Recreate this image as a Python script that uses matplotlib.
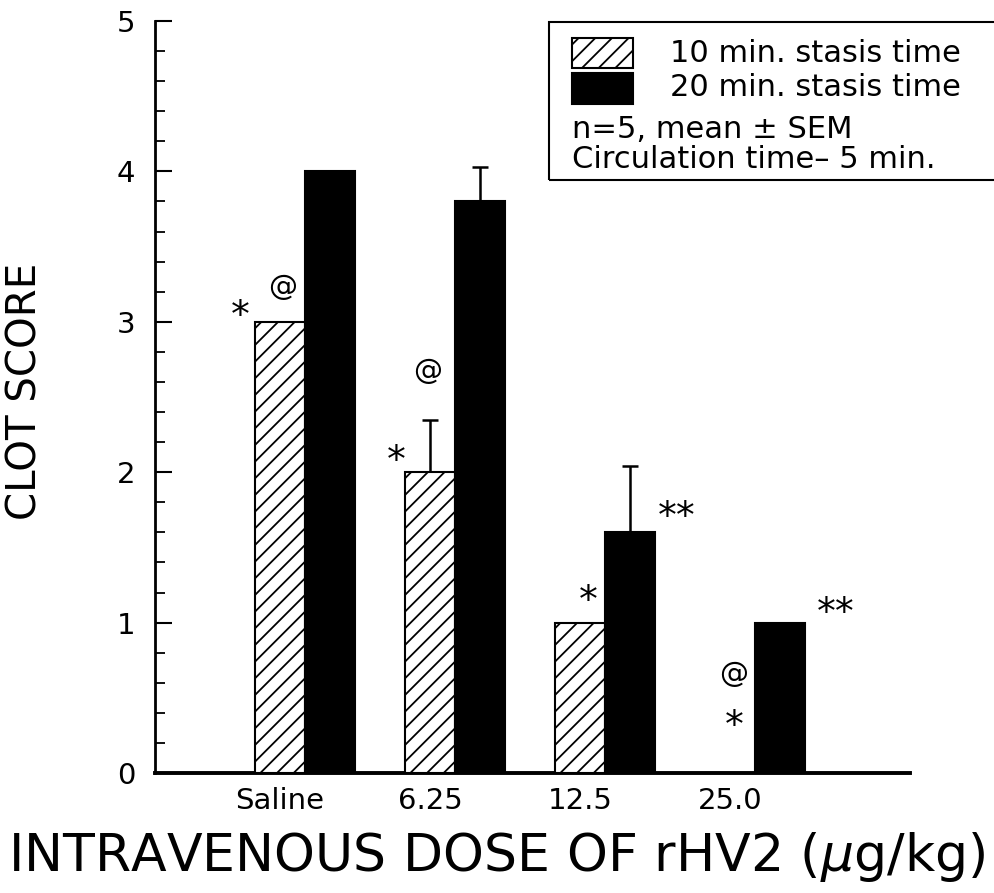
import matplotlib
matplotlib.use("Agg")
import matplotlib.pyplot as plt
from matplotlib.patches import Rectangle
from matplotlib.ticker import MultipleLocator
import numpy as np

plt.rcParams["font.family"] = ["DejaVu Sans"]
plt.rcParams["hatch.linewidth"] = 1.3

# Clot score by intravenous dose of rHV2
doses = ["Saline", "6.25", "12.5", "25.0"]
score_10min = [3.0, 2.0, 1.0, 0.0]
sem_10min = [0.0, 0.35, 0.0, 0.0]
score_20min = [4.0, 3.8, 1.6, 1.0]
sem_20min = [0.0, 0.23, 0.44, 0.0]

# significance symbols: (symbol, x in data units, y in data units)
marks = [
    ("*", -0.43, 3.10), ("@", -0.15, 3.23),
    ("*", 0.61, 2.13), ("@", 0.82, 2.67),
    ("*", 1.89, 1.20), ("**", 2.48, 1.76),
    ("@", 2.86, 0.66), ("*", 2.86, 0.37), ("**", 3.54, 1.12),
]

W, H = 994, 893
fig = plt.figure(figsize=(W / 100, H / 100), dpi=100)
ax = fig.add_axes([155 / W, 1 - 773 / H, (910 - 155) / W, (773 - 21) / H])

x = np.arange(len(doses))
w = 1 / 3

ax.bar(x - w / 2, score_10min, w, facecolor="white", edgecolor="black",
       hatch="//", linewidth=1.5, zorder=3)
ax.bar(x + w / 2, score_20min, w, color="black", edgecolor="black",
       linewidth=1.5, zorder=3)

s10 = np.array(sem_10min)
s20 = np.array(sem_20min)
m10 = s10 > 0
m20 = s20 > 0
ax.errorbar(x[m10] - w / 2, np.array(score_10min)[m10],
            yerr=[np.zeros(m10.sum()), s10[m10]], fmt="none",
            ecolor="black", elinewidth=1.8, capsize=6, capthick=1.8, zorder=2)
ax.errorbar(x[m20] + w / 2, np.array(score_20min)[m20],
            yerr=[np.zeros(m20.sum()), s20[m20]], fmt="none",
            ecolor="black", elinewidth=1.8, capsize=6, capthick=1.8, zorder=2)

# asterisks sit high in the glyph box, so nudge them down a little
for sym, mx, my in marks:
    if sym == "@":
        ax.text(mx, my, sym, ha="center", va="center", fontsize=21)
    else:
        ax.text(mx, my - 0.065, sym, ha="center", va="center", fontsize=27)

ax.set_xlim(-1.0, 4.033)
ax.set_ylim(0, 5)
ax.spines["top"].set_visible(False)
ax.spines["right"].set_visible(False)
ax.spines["left"].set_linewidth(2)
ax.spines["bottom"].set_linewidth(2.8)

ax.yaxis.set_major_locator(MultipleLocator(1))
ax.yaxis.set_minor_locator(MultipleLocator(0.2))
ax.tick_params(axis="y", which="major", direction="in", length=12,
               width=1.5, labelsize=21, pad=14)
ax.tick_params(axis="y", which="minor", direction="in", length=7, width=1.3)
ax.set_xticks(x - w / 2)
ax.set_xticklabels(doses)
ax.tick_params(axis="x", length=0, labelsize=21, pad=10)

fig.text(26 / W, 1 - 391 / H, "CLOT SCORE", rotation=90, ha="center",
         va="center", fontsize=29)
fig.text(0.5, 1 - 857 / H, "INTRAVENOUS DOSE OF rHV2 ($\\mu$g/kg)",
         ha="center", va="center", fontsize=37.5)

# legend box
fig.patches.append(Rectangle((549 / W, 1 - 180 / H), 460 / W, 158 / H,
                             transform=fig.transFigure, fill=False,
                             edgecolor="black", linewidth=1.5))
fig.patches.append(Rectangle((572 / W, 1 - 68 / H), 61 / W, 30 / H,
                             transform=fig.transFigure, facecolor="white",
                             edgecolor="black", hatch="//", linewidth=1.5))
fig.patches.append(Rectangle((572 / W, 1 - 104 / H), 61 / W, 31 / H,
                             transform=fig.transFigure, facecolor="black",
                             edgecolor="black", linewidth=1.5))
fig.text(670 / W, 1 - 53 / H, "10 min. stasis time", va="center", fontsize=22)
fig.text(670 / W, 1 - 88 / H, "20 min. stasis time", va="center", fontsize=22)
fig.text(572 / W, 1 - 130 / H, "n=5, mean \u00b1 SEM", va="center", fontsize=22)
fig.text(572 / W, 1 - 160 / H, "Circulation time\u2013 5 min.", va="center",
         fontsize=22)

fig.savefig("out.png", dpi=100)
